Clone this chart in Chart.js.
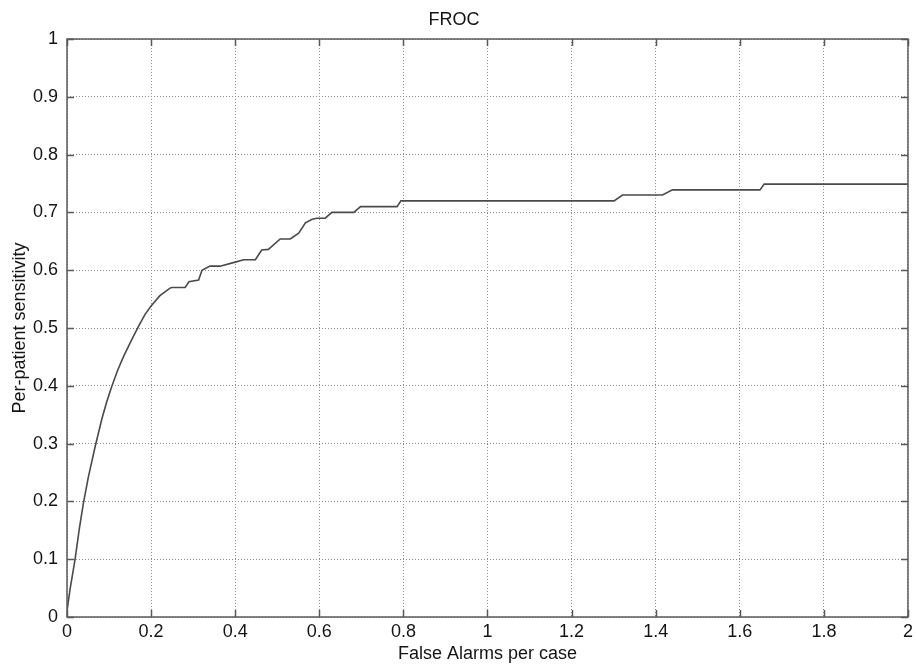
<!DOCTYPE html>
<html lang="en">
<head>
  <meta charset="UTF-8" />
  <title>FROC</title>
  <script src="https://cdn.jsdelivr.net/npm/chart.js@4.4.3/dist/chart.umd.js"></script>
  <style>
    html,body{margin:0;padding:0;background:#fff}
    canvas{display:block}
  </style>
</head>
<body>
  <canvas id="froc" width="917" height="665"></canvas>

  <script>
    /* ==== DATA ==== */
    const falseAlarms = [
      0, 0.007, 0.019, 0.029, 0.039, 0.051, 0.067, 0.083, 0.094, 0.106,
      0.120, 0.134, 0.154, 0.170, 0.186, 0.200, 0.221, 0.245, 0.249, 0.281,
      0.290, 0.313, 0.321, 0.340, 0.364, 0.400, 0.420, 0.448, 0.463, 0.479,
      0.507, 0.531, 0.551, 0.567, 0.583, 0.594, 0.614, 0.630, 0.682, 0.698,
      0.785, 0.794, 1.301, 1.321, 1.416, 1.440, 1.648, 1.658, 2.0
    ];
    const sensitivity = [
      0.01, 0.047, 0.099, 0.151, 0.197, 0.243, 0.295, 0.343, 0.371, 0.398,
      0.426, 0.450, 0.480, 0.503, 0.524, 0.538, 0.556, 0.569, 0.57, 0.57,
      0.58, 0.583, 0.60, 0.607, 0.607, 0.614, 0.618, 0.618, 0.635, 0.636,
      0.654, 0.654, 0.664, 0.682, 0.688, 0.690, 0.690, 0.700, 0.700, 0.710,
      0.710, 0.720, 0.720, 0.730, 0.730, 0.739, 0.739, 0.749, 0.749
    ];
    const xTickLabels = ['0','0.2','0.4','0.6','0.8','1','1.2','1.4','1.6','1.8','2'];
    const yTickLabels = ['0','0.1','0.2','0.3','0.4','0.5','0.6','0.7','0.8','0.9','1'];

    /* ==== STYLE ==== */
    const FONT = '"Liberation Sans", Arial, sans-serif';
    const TEXT = '#141414';
    const AXIS = '#5a5a5a';
    const GRID = '#8c8c8c';

    // box round the plot with short inward tick marks on all four sides
    const frameTicks = {
      id: 'frameTicks',
      afterDatasetsDraw(chart){
        const {ctx, chartArea:a, scales:{x, y}} = chart;
        const TL = 7;
        ctx.save();
        ctx.strokeStyle = AXIS;
        ctx.lineWidth = 1.5;
        ctx.beginPath();
        x.ticks.forEach(t => {
          const px = Math.round(x.getPixelForValue(t.value)) + 0.5;
          ctx.moveTo(px, a.bottom); ctx.lineTo(px, a.bottom - TL);
          ctx.moveTo(px, a.top);    ctx.lineTo(px, a.top + TL);
        });
        y.ticks.forEach(t => {
          const py = Math.round(y.getPixelForValue(t.value)) + 0.5;
          ctx.moveTo(a.left, py);  ctx.lineTo(a.left + TL, py);
          ctx.moveTo(a.right, py); ctx.lineTo(a.right - TL, py);
        });
        ctx.stroke();
        ctx.strokeRect(a.left, a.top, a.right - a.left, a.bottom - a.top);
        ctx.restore();
      }
    };

    const points = falseAlarms.map((v, i) => ({x: v, y: sensitivity[i]}));

    new Chart(document.getElementById('froc'), {
      type: 'line',
      data: {
        datasets: [{
          data: points,
          borderColor: '#4a4a4a',
          borderWidth: 1.6,
          pointRadius: 0,
          tension: 0,
          fill: false
        }]
      },
      options: {
        responsive: false,
        animation: false,
        events: [],
        layout: {padding: {top: 0, right: 9, bottom: 0, left: 0}},
        plugins: {
          legend: {display: false},
          tooltip: {enabled: false},
          title: {
            display: true,
            text: 'FROC',
            color: TEXT,
            font: {family: FONT, size: 18, weight: 'normal', lineHeight: 1.2},
            padding: {top: 9, bottom: 8.4}
          }
        },
        scales: {
          x: {
            type: 'linear',
            min: 0, max: 2,
            afterFit: s => { s.height = 48; },
            ticks: {
              stepSize: 0.2,
              padding: 4,
              color: TEXT,
              font: {family: FONT, size: 18},
              maxRotation: 0,
              autoSkip: false,
              callback: (v, i) => xTickLabels[i]
            },
            grid: {color: GRID, lineWidth: 1, drawTicks: false},
            border: {display: false, dash: [1, 2]},
            title: {
              display: true,
              text: 'False Alarms per case',
              color: TEXT,
              font: {family: FONT, size: 18, lineHeight: 1.2},
              padding: {top: 0, bottom: 0}
            }
          },
          y: {
            type: 'linear',
            min: 0, max: 1,
            afterFit: s => { s.width = 67; },
            ticks: {
              stepSize: 0.1,
              padding: 9,
              color: TEXT,
              font: {family: FONT, size: 18},
              autoSkip: false,
              callback: (v, i) => yTickLabels[i]
            },
            grid: {color: GRID, lineWidth: 1, drawTicks: false},
            border: {display: false, dash: [1, 2]},
            title: {
              display: true,
              text: 'Per-patient sensitivity',
              color: TEXT,
              font: {family: FONT, size: 18, lineHeight: 1.2},
              padding: {top: 9, bottom: 0}
            }
          }
        }
      },
      plugins: [frameTicks]
    });
  </script>
</body>
</html>
